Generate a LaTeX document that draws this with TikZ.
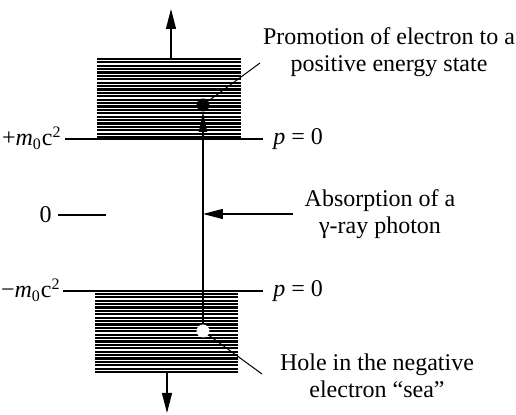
\documentclass[tikz,border=0pt]{standalone}
\usepackage{fontspec}
\setmainfont{Liberation Serif}
\usetikzlibrary{arrows.meta}

\begin{document}
\begin{tikzpicture}
  [
    x=0.5pt, y=-0.5pt,
    % Definimos los estilos para no repetir codigo
    label/.style={font=\fontsize{12}{13.5}\selectfont, inner ysep=0pt},
    note/.style={label, align=center},
    level/.style={line width=0.7pt},
    band/.style={line width=1.1pt},
    big/.style={-{Triangle[length=10pt,width=5pt]}, line width=0.6pt},
    lead/.style={line width=0.5pt},
    dot/.style={circle, minimum size=6.5pt, inner sep=0pt}
  ]
  \useasboundingbox (0,0) rectangle (516,415);
  % bandas de energia rayadas
  \foreach \y in {59,62.4,...,137.5} \draw[band] (97,\y) -- (241,\y);
  \foreach \y in {294,297.4,...,372.5} \draw[band] (95,\y) -- (238,\y);

  \coordinate (uplevel) at (0,139);
  \coordinate (downlevel) at (0,291);
  \coordinate (zeroend) at (106,215);
  \coordinate (upbase) at (171,58);
  \coordinate (uptip) at (171,9);
  \coordinate (downbase) at (167,373);
  \coordinate (downtip) at (167,413);
  \coordinate (promotip) at (260,63);
  \coordinate (holetip) at (262,374);

  \node[label, anchor=base east, inner xsep=1.5pt] (plus) at (65,146) {+\textit{m}\textsubscript{0}c\textsuperscript{2}};
  \node[label, anchor=base east, inner xsep=1pt] (minus) at (63,298) {−\textit{m}\textsubscript{0}c\textsuperscript{2}};
  \node[label, anchor=base east, inner xsep=3pt] (zero) at (58,223) {0};
  \node[label, anchor=base west, inner xsep=5pt] (pup) at (263,145) {\textit{p} = 0};
  \node[label, anchor=base west, inner xsep=5pt] (pdown) at (263,297) {\textit{p} = 0};
  \node[note] (promo) at (389,52) {Promotion of electron to a\\positive energy state};
  \node[note, inner xsep=5.5pt] (absorb) at (380,214) {Absorption of a\\γ-ray photon};
  \node[note] (holetext) at (377,376) {Hole in the negative\\electron “sea”};
  \node[dot, fill=black] (electron) at (203,105) {};
  \node[dot, fill=white] (hole) at (203,331) {};

  \draw[level] (plus.east |- uplevel) -- (pup.west |- uplevel);
  \draw[level] (minus.east |- downlevel) -- (pdown.west |- downlevel);
  \draw[level] (zero.east |- zeroend) -- (zeroend);
  \draw[big] (upbase) -- (uptip);
  \draw[big] (downbase) -- (downtip);
  \draw[level, -{Triangle[length=10pt,width=4pt]}] (hole) -- (electron);
  \draw[big] (absorb.west) -- (absorb.west -| hole);
  \draw[lead] (electron) -- (promotip);
  \draw[lead] (hole) -- (holetip);
\end{tikzpicture}
\end{document}
